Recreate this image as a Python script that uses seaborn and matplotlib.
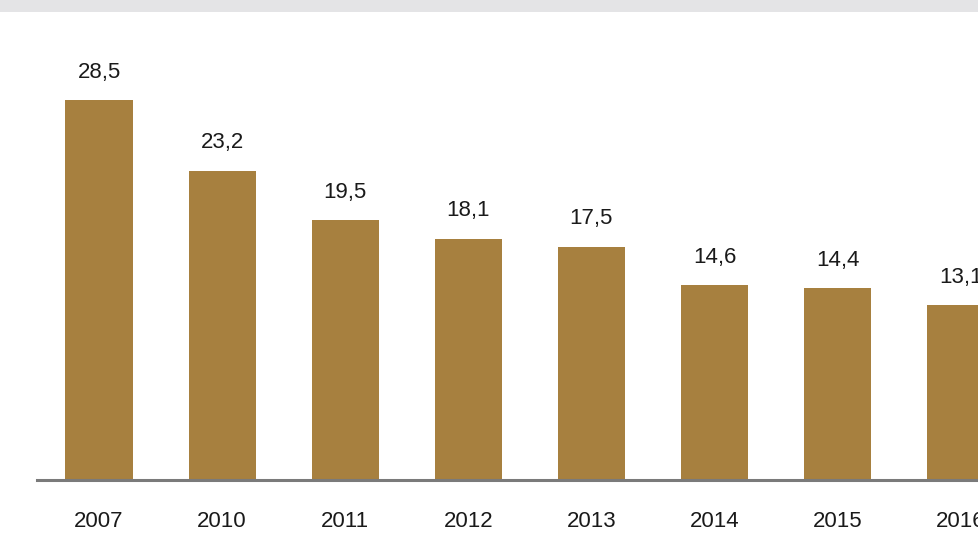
import matplotlib
matplotlib.use("Agg")
import matplotlib.pyplot as plt
import seaborn as sns
import pandas as pd
from matplotlib.patches import Rectangle

years = ["2007", "2010", "2011", "2012", "2013", "2014", "2015", "2016"]
values = [28.5, 23.2, 19.5, 18.1, 17.5, 14.6, 14.4, 13.1]
labels = ["28,5", "23,2", "19,5", "18,1", "17,5", "14,6", "14,4", "13,1"]

sns.set_theme(style="white")
plt.rcParams['font.family'] = ['Liberation Sans Narrow', 'Liberation Sans', 'DejaVu Sans']

W, H = 979, 555
fig = plt.figure(figsize=(W / 100, H / 100), dpi=100)
fig.patch.set_facecolor("white")
# light gray strip at top
fig.patches.append(Rectangle((0, 1 - 12 / H), 1, 12 / H, transform=fig.transFigure,
                             facecolor="#e4e4e6", edgecolor="none", zorder=0))

ax = fig.add_axes([37 / W, (H - 480) / H, 1 - 37 / W, (480 - 12) / H])
ax.set_facecolor("none")

df = pd.DataFrame({"year": years, "value": values})
sns.barplot(data=df, x="year", y="value", color="#a7803f", saturation=1,
            width=0.545, ax=ax, edgecolor="none")

ax.set_xlim(-0.504, 7.149)
ax.set_ylim(0, 35.1)

for i, (v, lab) in enumerate(zip(values, labels)):
    ax.annotate(lab, xy=(i, v), xytext=(0, 20), textcoords="offset points",
                ha="center", va="center", fontsize=16, color="#1a1a1a")

for s in ["top", "right", "left"]:
    ax.spines[s].set_visible(False)
ax.spines["bottom"].set_color("#7a7a7a")
ax.spines["bottom"].set_linewidth(2.2)
ax.set_yticks([])
ax.set_xlabel("")
ax.set_ylabel("")
ax.tick_params(axis="x", length=0, pad=22, labelsize=16, labelcolor="#1a1a1a")

fig.savefig("out.png", dpi=100)
